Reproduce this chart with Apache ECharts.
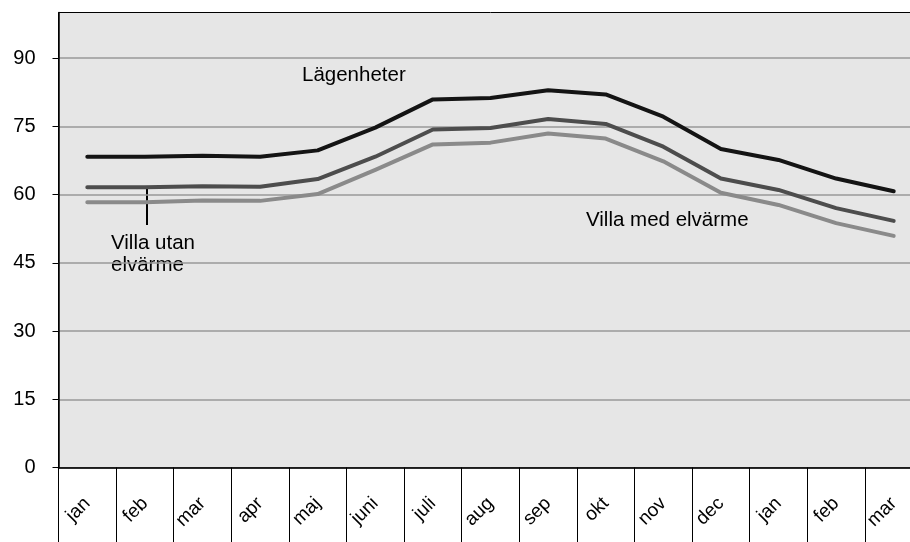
<!DOCTYPE html>
<html>
<head>
<meta charset="utf-8">
<script src="https://cdn.jsdelivr.net/npm/echarts@6/dist/echarts.min.js"></script>
<style>
    html, body { margin: 0; padding: 0; background: #fff; overflow: hidden; }
    #chart { width: 923px; height: 542px; }
</style>
</head>
<body>
<div id="chart"></div>
<script>
// månader (jan -> mar nästa år)
const months = ['jan', 'feb', 'mar', 'apr', 'maj', 'juni', 'juli', 'aug', 'sep', 'okt', 'nov', 'dec', 'jan', 'feb', 'mar'];
const lagenheter = [68.3, 68.3, 68.5, 68.3, 69.7, 74.7, 80.9, 81.2, 82.9, 82.0, 77.1, 70.0, 67.6, 63.5, 60.7];
const villaUtan = [61.6, 61.6, 61.8, 61.7, 63.4, 68.3, 74.3, 74.6, 76.6, 75.5, 70.5, 63.5, 61.0, 57.0, 54.2];
const villaMed = [58.3, 58.3, 58.7, 58.6, 60.1, 65.4, 71.0, 71.4, 73.4, 72.3, 67.3, 60.4, 57.7, 53.7, 50.9];
const yTicks = [0, 15, 30, 45, 60, 75, 90];

const font = "'Liberation Sans', Arial, sans-serif";

window.addEventListener('load', function () {
    const chart = echarts.init(document.getElementById('chart'));

    function line(name, data, color) {
        return {
            name: name,
            type: 'line',
            data: data,
            symbol: 'none',
            silent: true,
            lineStyle: { color: color, width: 4, cap: 'round', join: 'round' }
        };
    }

    const option = {
        animation: false,
        grid: {
            left: 58.5, top: 12.5, right: 0.5, bottom: 74.5,
            outerBoundsMode: 'none',
            containLabel: false,
            show: true,
            backgroundColor: '#e6e6e6',
            borderColor: '#000',
            borderWidth: 1
        },
        xAxis: {
            type: 'category',
            data: months,
            boundaryGap: true,
            axisLine: { lineStyle: { color: '#000', width: 1.5 } },
            axisTick: { show: true, interval: 0, length: 76, lineStyle: { color: '#000', width: 1 } },
            axisLabel: {
                interval: 0, rotate: 45, margin: 33,
                color: '#000', fontSize: 19, fontFamily: font
            },
            splitLine: { show: false }
        },
        yAxis: {
            type: 'value',
            min: 0, max: 100, interval: 15,
            axisLine: { show: true, lineStyle: { color: '#000', width: 1.5 } },
            axisTick: { show: true, length: 6, customValues: yTicks, lineStyle: { color: '#000' } },
            axisLabel: {
                customValues: yTicks, margin: 23,
                color: '#000', fontSize: 20, fontFamily: font
            },
            splitLine: { lineStyle: { color: '#999', width: 1.5 } }
        },
        graphic: [
            { type: 'text', x: 302, y: 75, style: { text: 'Lägenheter', font: '20.5px ' + font, fill: '#000', verticalAlign: 'middle' } },
            { type: 'text', x: 111, y: 243, style: { text: 'Villa utan', font: '20.5px ' + font, fill: '#000', verticalAlign: 'middle' } },
            { type: 'text', x: 111, y: 265, style: { text: 'elvärme', font: '20.5px ' + font, fill: '#000', verticalAlign: 'middle' } },
            { type: 'text', x: 586, y: 220, style: { text: 'Villa med elvärme', font: '20.5px ' + font, fill: '#000', verticalAlign: 'middle' } },
            { type: 'line', shape: { x1: 147, y1: 186, x2: 147, y2: 225 }, style: { stroke: '#000', lineWidth: 2 } }
        ],
        series: [
            line('Villa med elvärme', villaMed, '#8a8a8a'),
            line('Villa utan elvärme', villaUtan, '#4d4d4d'),
            line('Lägenheter', lagenheter, '#141414')
        ]
    };

    chart.setOption(option);
});
</script>
</body>
</html>
